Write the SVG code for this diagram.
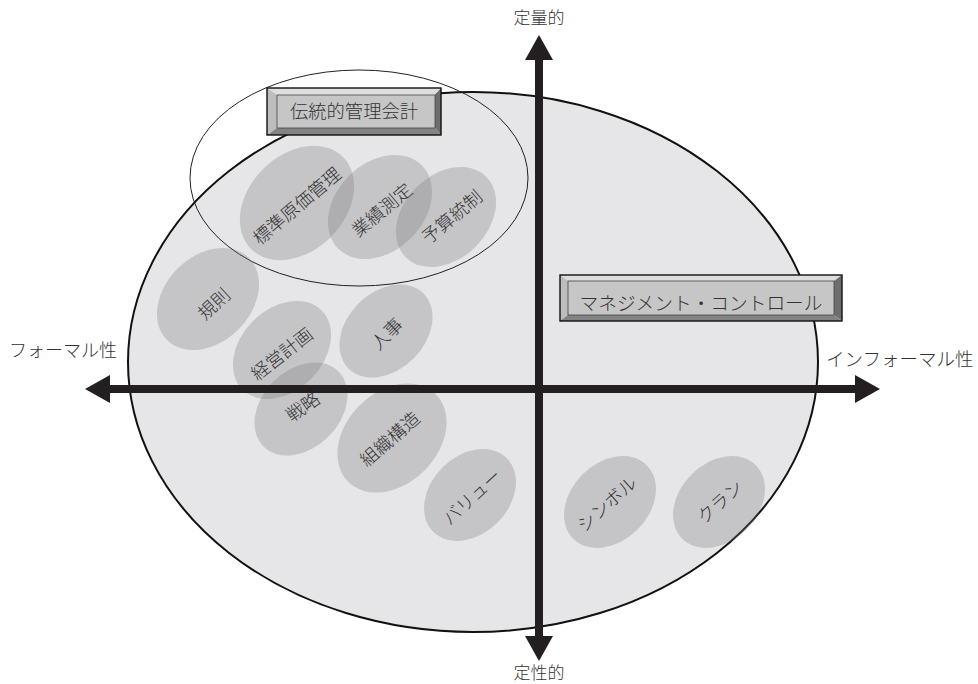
<svg xmlns="http://www.w3.org/2000/svg" width="978" height="684" viewBox="0 0 978 684">
<defs>
<style>
.t{font-family:"Noto Sans CJK JP","Noto Sans",sans-serif;fill:#333333;font-weight:300}
.lab{font-size:18px;text-anchor:middle}
.blob{fill:#7a7a7c;fill-opacity:0.3}
.face{fill:#c6c6c6;stroke:#444;stroke-width:0.8}
.bt{fill:#dedede}
.bl{fill:#bdbdbd}
.br{fill:#6e6e6e}
.bb{fill:#838383}
.frame{fill:none;stroke:#111;stroke-width:1.4}
.axis{stroke:#231f20;stroke-width:8;fill:none}
</style>
<marker id="ah" viewBox="0 0 25 28" refX="0" refY="14" markerWidth="25" markerHeight="28" markerUnits="userSpaceOnUse" orient="auto-start-reverse">
<path d="M0,0 L25,14 L0,28 Z" fill="#231f20"/>
</marker>
</defs>
<rect width="978" height="684" fill="#ffffff"/>
<g id="main-ellipse">
<ellipse cx="473" cy="362" rx="345" ry="270" fill="#e6e6e8" stroke="#111" stroke-width="2"/>
</g>
<g id="traditional-area">
<ellipse cx="359" cy="178" rx="169" ry="108" fill="none" stroke="#222" stroke-width="1"/>
</g>
<g id="n-hyojun">
<ellipse class="blob" cx="297" cy="203" rx="65" ry="48" transform="rotate(-45 297 203)"/>
<text class="t lab" x="297" y="206" dy="0.36em" transform="rotate(-40 297 206)">標準原価管理</text>
</g>
<g id="n-gyoseki">
<ellipse class="blob" cx="380" cy="207" rx="59" ry="44" transform="rotate(-45 380 207)"/>
<text class="t lab" x="382" y="210" dy="0.36em" transform="rotate(-40 382 210)">業績測定</text>
</g>
<g id="n-yosan">
<ellipse class="blob" cx="446" cy="217" rx="57" ry="42" transform="rotate(-45 446 217)"/>
<text class="t lab" x="452" y="217" dy="0.36em" transform="rotate(-40 452 217)">予算統制</text>
</g>
<g id="n-kisoku">
<ellipse class="blob" cx="208" cy="299" rx="58" ry="43" transform="rotate(-45 208 299)"/>
<text class="t lab" x="214" y="304" dy="0.36em" transform="rotate(-43 214 304)">規則</text>
</g>
<g id="n-keiei">
<ellipse class="blob" cx="282" cy="350" rx="56" ry="41" transform="rotate(-45 282 350)"/>
<text class="t lab" x="282" y="354" dy="0.36em" transform="rotate(-38 282 354)">経営計画</text>
</g>
<g id="n-jinji">
<ellipse class="blob" cx="386" cy="331" rx="53" ry="39" transform="rotate(-45 386 331)"/>
<text class="t lab" x="387" y="334" dy="0.36em" transform="rotate(-45 387 334)">人事</text>
</g>
<g id="n-senryaku">
<ellipse class="blob" cx="301" cy="409" rx="53" ry="39" transform="rotate(-45 301 409)"/>
<text class="t lab" x="303" y="407" dy="0.36em" transform="rotate(-35 303 407)">戦略</text>
</g>
<g id="n-soshiki">
<ellipse class="blob" cx="392" cy="438" rx="62" ry="46" transform="rotate(-45 392 438)"/>
<text class="t lab" x="390" y="439" dy="0.36em" transform="rotate(-41 390 439)">組織構造</text>
</g>
<g id="n-value">
<ellipse class="blob" cx="470" cy="495" rx="52" ry="39" transform="rotate(-45 470 495)"/>
<text class="t lab" x="472" y="497" dy="0.36em" transform="rotate(-43 472 497)">バリュー</text>
</g>
<g id="n-symbol">
<ellipse class="blob" cx="610" cy="502" rx="52" ry="39" transform="rotate(-45 610 502)"/>
<text class="t lab" x="607" y="504" dy="0.36em" transform="rotate(-42 607 504)">シンボル</text>
</g>
<g id="n-clan">
<ellipse class="blob" cx="719" cy="502" rx="52" ry="39" transform="rotate(-45 719 502)"/>
<text class="t lab" x="720" y="502" dy="0.36em" transform="rotate(-42 720 502)">クラン</text>
</g>
<g id="connectors">
<line class="axis" x1="110" y1="389" x2="855" y2="389" marker-start="url(#ah)" marker-end="url(#ah)"/>
<line class="axis" x1="539" y1="60" x2="539" y2="636" marker-start="url(#ah)" marker-end="url(#ah)"/>
</g>
<g id="axis-labels">
<text class="t" x="539" y="24" font-size="17" text-anchor="middle">定量的</text>
<text class="t" x="539" y="679" font-size="17" text-anchor="middle">定性的</text>
<text class="t" x="9" y="357" font-size="18">フォーマル性</text>
<text class="t" x="826" y="366" font-size="18.5">インフォーマル性</text>
</g>
<g id="box-traditional">
<polygon class="bt" points="267,88 441,88 435,95 277,95"/>
<polygon class="bl" points="267,88 277,95 277,128 267,135"/>
<polygon class="br" points="441,88 441,135 435,128 435,95"/>
<polygon class="bb" points="267,135 441,135 435,128 277,128"/>
<rect class="face" x="277" y="95" width="158" height="33"/>
<rect class="frame" x="267" y="88" width="174" height="47"/>
<text class="t" x="354" y="118" font-size="18.3" text-anchor="middle">伝統的管理会計</text>
</g>
<g id="box-mc">
<polygon class="bt" points="560,275 842,275 834,281 568,281"/>
<polygon class="bl" points="560,275 568,281 568,315 560,321"/>
<polygon class="br" points="842,275 842,321 834,315 834,281"/>
<polygon class="bb" points="560,321 842,321 834,315 568,315"/>
<rect class="face" x="568" y="281" width="266" height="34"/>
<rect class="frame" x="560" y="275" width="282" height="46"/>
<text class="t" x="701" y="310" font-size="18.7" text-anchor="middle">マネジメント・コントロール</text>
</g>
</svg>
